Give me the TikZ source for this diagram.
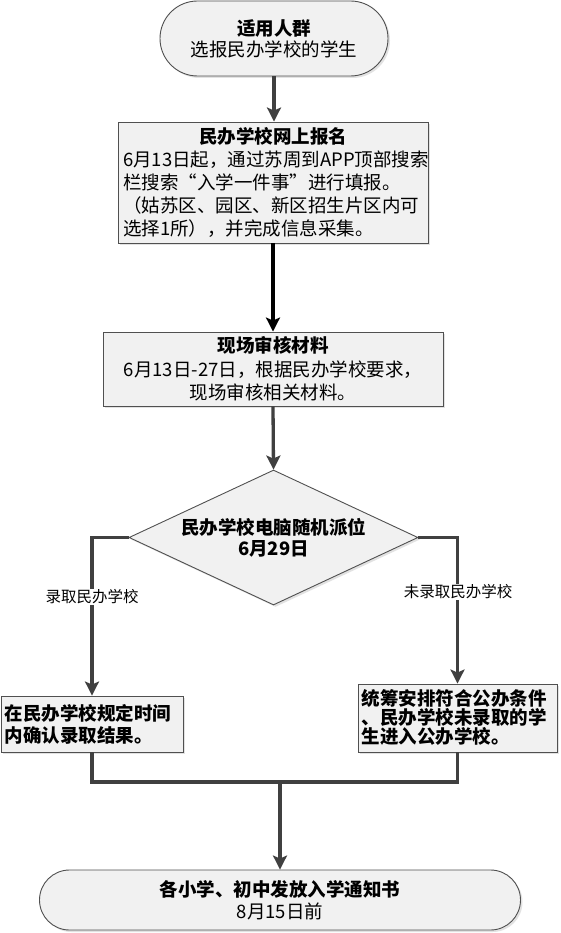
\documentclass[tikz,border=0pt]{standalone}
\usepackage{fontspec}
\setmainfont{Noto Sans CJK SC}
\usetikzlibrary{shapes.geometric,shapes.misc,arrows.meta,shadows,calc}
\definecolor{boxline}{HTML}{505050}
\definecolor{boxfill}{HTML}{F1F1F1}
\definecolor{conn}{HTML}{404040}
\begin{document}
\begin{tikzpicture}[x=1pt,y=-1pt,
  shad/.style={drop shadow={shadow xshift=2pt,shadow yshift=-2pt,fill=black!22}},
  box/.style={rectangle,draw=boxline,line width=0.9pt,fill=boxfill,shad,inner sep=0pt},
  term/.style={rounded rectangle,rounded rectangle arc length=180,draw=boxline,line width=0.9pt,fill=boxfill,shad,inner sep=0pt},
  dia/.style={diamond,draw=boxline,line width=0.9pt,fill=boxfill,shad,inner sep=0pt},
  txt/.style={font=\fontsize{18.5}{#1}\selectfont,inner sep=0pt,align=center},
  txt/.default=22,
  line/.style={draw=conn,line width=3.3pt},
  arr/.style={line,-{Stealth[length=14pt,width=14pt,inset=3pt]}},
  barr/.style={draw=black,line width=3.8pt,-{Stealth[length=14pt,width=14pt,inset=3pt]}},
  lab/.style={font=\fontsize{15.5}{18}\selectfont,fill=white,inner sep=1pt}
]
\useasboundingbox[fill=white] (0,0) rectangle (560,933);

% top terminal
\node[term,minimum width=228pt,minimum height=75pt] (n1) at (274,38.5) {};
\node[txt=21] (t1) at (n1) {{\bfseries 适用人群}\\选报民办学校的学生};

% online registration
\node[box,minimum width=310pt,minimum height=121pt] (n2) at (273,182.5) {};
\node[txt=23,align=left,text width=300pt] (t2) at (n2) {\makebox[300pt][c]{\bfseries 民办学校网上报名}\\6月13日起，通过苏周到APP顶部搜索\\栏搜索“入学一件事”进行填报。\\（姑苏区、园区、新区招生片区内可\\选择1所），并完成信息采集。};

% on-site review
\node[box,minimum width=340pt,minimum height=74pt] (n3) at (273,369) {};
\node[txt=23.5] (t3) at (n3) {{\bfseries 现场审核材料}\\6月13日-27日，根据民办学校要求，\\现场审核相关材料。};

% diamond
\node[dia,minimum width=289pt,minimum height=135pt] (n4) at (273.5,537.5) {};
\node[txt=21,font=\fontsize{18.5}{21}\selectfont\bfseries] (t4) at (n4) {民办学校电脑随机派位\\6月29日};

% left result
\node[box,minimum width=182pt,minimum height=56pt] (n5) at (92,724) {};
\node[txt=22,font=\fontsize{18.5}{22}\selectfont\bfseries,align=left,anchor=west] (t5) at ($(n5.west)+(4,0)$) {在民办学校规定时间\\内确认录取结果。};

% right result
\node[box,minimum width=199pt,minimum height=68pt] (n6) at (457.5,718) {};
\node[txt=19,font=\fontsize{18.5}{19}\selectfont\bfseries,align=left,anchor=west] (t6) at ($(n6.west)+(4,-1)$) {统筹安排符合公办条件\\、民办学校未录取的学\\生进入公办学校。};

% bottom terminal
\node[term,minimum width=481pt,minimum height=60pt] (n7) at (280,900) {};
\node[txt=22] (t7) at (n7) {{\bfseries 各小学、初中发放入学通知书}\\8月15日前};

% connectors
\draw[arr] (n1.south) -- (n2.north -| n1.south);
\draw[barr] (n2.south) -- (n3.north);
\draw[arr] (n3.south) -- (n4.north);
\draw[arr] (n4.west) -| (n5.north);
\draw[arr] (n4.east) -| (n6.north);
\coordinate (m) at (280,782);
\draw[line] (n5.south) |- (m) -| (n6.south);
\draw[arr] (m) -- (n7.north);

% branch labels
\node[lab] (l1) at (92,597) {录取民办学校};
\node[lab] (l2) at (458,592) {未录取民办学校};
\end{tikzpicture}
\end{document}
